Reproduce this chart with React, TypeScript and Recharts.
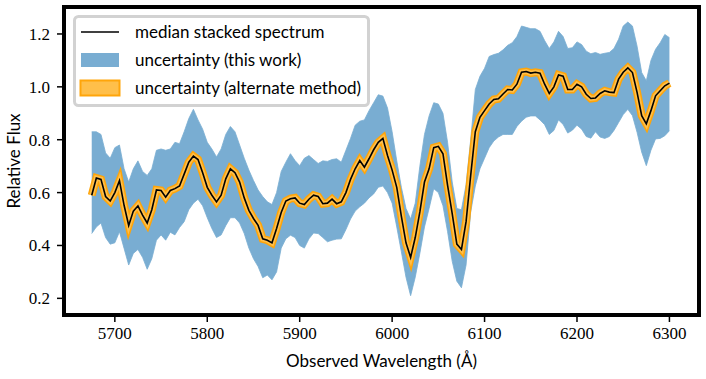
import { Area, ComposedChart, Legend, Line, ReferenceArea, XAxis, YAxis } from "recharts";

// sample grid of the stacked spectrum, 5 Å steps
const WAVE = Array.from({ length: 126 }, (_, i) => 5675 + 5 * i);

// median stacked spectrum (relative flux)
const MEDIAN = [
  0.59, 0.655, 0.65, 0.585, 0.568, 0.6, 0.645, 0.552, 0.476, 0.53,
  0.55, 0.515, 0.485, 0.535, 0.61, 0.608, 0.583, 0.608, 0.615, 0.625,
  0.67, 0.715, 0.738, 0.725, 0.675, 0.62, 0.59, 0.565, 0.59, 0.652,
  0.69, 0.675, 0.64, 0.58, 0.533, 0.502, 0.476, 0.425, 0.42, 0.41,
  0.464, 0.525, 0.568, 0.577, 0.58, 0.56, 0.555, 0.575, 0.59, 0.585,
  0.558, 0.56, 0.575, 0.558, 0.565, 0.6, 0.65, 0.69, 0.721, 0.696,
  0.728, 0.762, 0.79, 0.805, 0.74, 0.685, 0.62, 0.51, 0.41, 0.355,
  0.43, 0.527, 0.64, 0.69, 0.77, 0.775, 0.747, 0.627, 0.52, 0.405,
  0.385, 0.49, 0.665, 0.83, 0.885, 0.91, 0.935, 0.952, 0.955, 0.973,
  0.99, 0.988, 1.01, 1.055, 1.058, 1.052, 1.055, 1.052, 1.01, 0.975,
  1.0, 1.045, 1.04, 0.99, 0.99, 1.01, 1.0, 0.972, 0.956, 0.958,
  0.975, 0.985, 0.98, 0.978, 1.029, 1.055, 1.072, 1.054, 0.979, 0.891,
  0.86, 0.91, 0.966, 0.985, 1.004, 1.014,
];

// uncertainty band (this work): lower / upper edge
const BAND_LO = [
  0.445, 0.47, 0.485, 0.43, 0.405, 0.41, 0.452, 0.389, 0.326, 0.37,
  0.385, 0.355, 0.31, 0.35, 0.42, 0.44, 0.42, 0.45, 0.44, 0.468,
  0.49, 0.535, 0.56, 0.575, 0.55, 0.505, 0.464, 0.43, 0.44, 0.475,
  0.505, 0.505, 0.485, 0.445, 0.39, 0.35, 0.32, 0.278, 0.288, 0.27,
  0.3, 0.39, 0.425, 0.439, 0.43, 0.4, 0.39, 0.425, 0.447, 0.445,
  0.43, 0.414, 0.42, 0.424, 0.425, 0.46, 0.5, 0.53, 0.546, 0.56,
  0.58, 0.595, 0.62, 0.625, 0.6, 0.56, 0.47, 0.376, 0.28, 0.21,
  0.28, 0.37, 0.47, 0.54, 0.615, 0.6, 0.55, 0.452, 0.34, 0.265,
  0.24, 0.326, 0.527, 0.625, 0.69, 0.73, 0.77, 0.795, 0.81, 0.82,
  0.82, 0.82, 0.85, 0.87, 0.885, 0.89, 0.89, 0.875, 0.857, 0.82,
  0.835, 0.875, 0.858, 0.825, 0.836, 0.855, 0.84, 0.812, 0.806, 0.83,
  0.81, 0.805, 0.812, 0.835, 0.865, 0.895, 0.915, 0.891, 0.828, 0.753,
  0.702, 0.76, 0.803, 0.805, 0.815, 0.834,
];
const BAND_HI = [
  0.83, 0.83, 0.82, 0.75, 0.73, 0.77, 0.78, 0.69, 0.64, 0.69,
  0.72, 0.68, 0.665, 0.69, 0.76, 0.765, 0.76, 0.765, 0.79, 0.785,
  0.83, 0.88, 0.915, 0.875, 0.84, 0.79, 0.765, 0.735, 0.765, 0.82,
  0.85, 0.83, 0.78, 0.73, 0.685, 0.646, 0.61, 0.585, 0.565, 0.555,
  0.6, 0.68, 0.715, 0.747, 0.721, 0.702, 0.73, 0.74, 0.725, 0.71,
  0.72, 0.718, 0.725, 0.728, 0.715, 0.76, 0.805, 0.855, 0.87, 0.875,
  0.91, 0.94, 0.97, 0.965, 0.92, 0.83, 0.72, 0.62, 0.54, 0.5,
  0.56, 0.7, 0.82, 0.89, 0.94, 0.935, 0.9, 0.79, 0.64, 0.54,
  0.535, 0.63, 0.8, 0.99, 1.04, 1.07, 1.115, 1.122, 1.127, 1.14,
  1.157, 1.167, 1.19, 1.23, 1.225, 1.22, 1.22, 1.21, 1.175, 1.145,
  1.17, 1.21, 1.19, 1.145, 1.148, 1.17, 1.16, 1.135, 1.125, 1.13,
  1.123, 1.127, 1.13, 1.145, 1.18, 1.23, 1.245, 1.23, 1.154, 1.054,
  1.023, 1.1, 1.142, 1.167, 1.198, 1.186,
];

const X_TICKS = [5700, 5800, 5900, 6000, 6100, 6200, 6300];
const Y_TICKS = [0.2, 0.4, 0.6, 0.8, 1.0, 1.2];
const LEGEND_LABELS = [
  "median stacked spectrum",
  "uncertainty (this work)",
  "uncertainty (alternate method)",
];

const C = {
  blue: "#79add2",
  orangeEdge: "#ffa50a",
  orangeFill: "#ffbf4a",
  frame: "#000",
};
const SERIF = "'Liberation Serif', serif";
const SANS = "Lato, 'DejaVu Sans', sans-serif";
const X_DOMAIN = [5645, 6332];
const Y_DOMAIN = [0.137, 1.302];

const spine = { stroke: C.frame, strokeWidth: 4 };
const tickLine = { stroke: "#000", strokeWidth: 1.5 };
const tickText = { fontFamily: SERIF, fontSize: 17, fill: "#000" };

// matplotlib usetex look: serif digits on the ticks
function XTick({ x, y, payload }: any) {
  return (
    <text x={x} y={y} dy={12} textAnchor="middle" style={tickText}>
      {payload.value}
    </text>
  );
}
function YTick({ x, y, payload }: any) {
  return (
    <text x={x} y={y} dy={6} textAnchor="end" style={tickText}>
      {Number(payload.value).toFixed(1)}
    </text>
  );
}

function SpectrumLegend() {
  const rows = [17, 45, 73];
  return (
    <svg width={297} height={92} style={{ display: "block" }}>
      <rect x={1.5} y={1.5} width={294} height={89} rx={4}
        fill="#fff" fillOpacity={0.8} stroke="#d2d2d2" strokeWidth={3} />
      <line x1={8} x2={46} y1={rows[0]} y2={rows[0]} stroke="#000" strokeWidth={1.6} />
      <rect x={8} y={rows[1] - 7} width={38} height={14} fill={C.blue} />
      <rect x={7.5} y={rows[2] - 7.5} width={39} height={15}
        fill={C.orangeFill} stroke={C.orangeEdge} strokeWidth={2} />
      {LEGEND_LABELS.map((t, i) => (
        <text key={t} x={62} y={rows[i] + 6} fontFamily={SANS} fontSize={17} fill="#000">{t}</text>
      ))}
    </svg>
  );
}

export default function App() {
  const data = WAVE.map((w, i) => ({ w, med: MEDIAN[i], band: [BAND_LO[i], BAND_HI[i]] }));
  return (
    <div style={{ position: "absolute", left: 0, top: 0, width: 706, height: 379, background: "#fff" }}>
      <ComposedChart width={706} height={379} data={data}
        margin={{ top: 7, right: 7, bottom: 0, left: 0 }}>
        <XAxis dataKey="w" type="number" domain={X_DOMAIN} ticks={X_TICKS} allowDataOverflow
          height={64} axisLine={spine} tickLine={tickLine}
          tickSize={7} tickMargin={5} tick={<XTick />}
          label={{ value: "Observed Wavelength (Å)", position: "insideBottom", offset: 12,
            style: { fontFamily: SANS, fontSize: 17, fill: "#000" } }} />
        <YAxis type="number" domain={Y_DOMAIN} ticks={Y_TICKS} allowDataOverflow width={64}
          axisLine={spine} tickLine={tickLine}
          tickSize={7} tickMargin={7} tick={<YTick />}
          label={{ value: "Relative Flux", angle: -90, position: "insideLeft", offset: 14,
            style: { textAnchor: "middle", fontFamily: SANS, fontSize: 17, fill: "#000" } }} />
        <Area dataKey="band" type="linear" stroke={C.blue} strokeWidth={0.8}
          fill={C.blue} fillOpacity={1} isAnimationActive={false} />
        <Line dataKey="med" type="linear" stroke={C.orangeEdge} strokeWidth={8}
          dot={false} isAnimationActive={false} />
        <Line dataKey="med" type="linear" stroke={C.orangeFill} strokeWidth={5}
          dot={false} isAnimationActive={false} />
        <Line dataKey="med" type="linear" stroke="#000" strokeWidth={1.6}
          dot={false} isAnimationActive={false} />
        {/* full box frame like the matplotlib axes */}
        <ReferenceArea x1={X_DOMAIN[0]} x2={X_DOMAIN[1]} y1={Y_DOMAIN[0]} y2={Y_DOMAIN[1]}
          ifOverflow="visible" fill="none" stroke={C.frame} strokeWidth={4} />
        <Legend layout="vertical" align="center" verticalAlign="middle"
          wrapperStyle={{ left: 73, top: 15, width: 297, height: 92 }}
          content={() => <SpectrumLegend />} />
      </ComposedChart>
    </div>
  );
}
